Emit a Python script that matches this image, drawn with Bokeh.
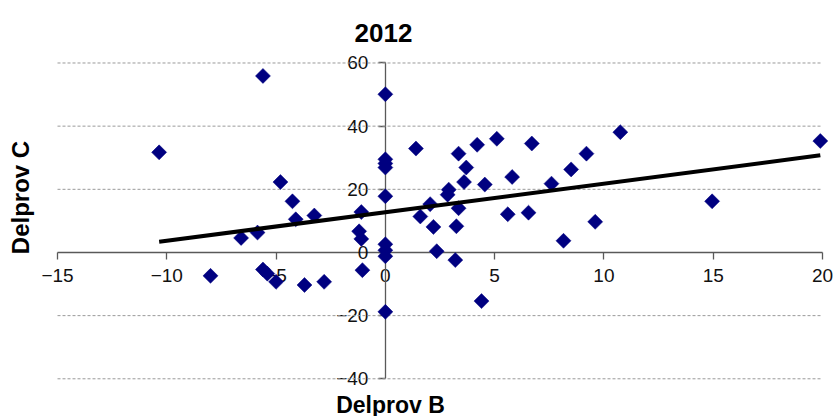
import numpy as np
from bokeh.plotting import figure
from bokeh.models import Range1d, FixedTicker, Label
from bokeh.embed import file_html
from bokeh.resources import INLINE

# Data
delprov_b = [-10.35, -8.0, -6.6, -5.85, -5.6, -5.6, -5.4, -5.0, -4.8, -4.25,
             -4.1, -3.7, -3.25, -2.8, -1.1, -1.2, -1.1, -1.05,
             0.0, 0.0, 0.0, 0.0, 0.0, 0.0, 0.0, 0.0, 0.0,
             1.4, 1.6, 2.05, 2.2, 2.35, 2.9, 2.85, 3.2, 3.25, 3.35, 3.35,
             3.6, 3.7, 4.2, 4.4, 4.55, 5.1, 5.6, 5.8, 6.55, 6.7, 7.6, 8.15,
             8.5, 9.2, 9.6, 10.75, 14.95, 19.9]
delprov_c = [31.7, -7.4, 4.6, 6.3, 55.9, -5.4, -6.7, -9.3, 22.3, 16.2,
             10.5, -10.3, 11.7, -9.3, 12.8, 6.7, 4.3, -5.6,
             50.1, 29.5, 28.2, 26.9, 17.8, 2.6, 0.7, -1.2, -18.8,
             32.9, 11.4, 15.3, 8.1, 0.4, 19.9, 18.3, -2.4, 8.3, 31.3, 14.0,
             22.3, 26.9, 34.1, -15.4, 21.5, 36.0, 12.1, 23.9, 12.6, 34.5, 21.8, 3.7,
             26.3, 31.3, 9.7, 38.1, 16.2, 35.3]
x_ticks = [-15, -10, -5, 0, 5, 10, 15, 20]
y_ticks = [-40, -20, 0, 20, 40, 60]
trend_slope = 0.905
trend_intercept = 12.75
title_text = "2012"
x_title = "Delprov B"
y_title = "Delprov C"

FONT = "Liberation Sans"

# The frame covers the whole canvas; the visible axes span the tick bounds.
p = figure(width=838, height=416, output_backend="svg", toolbar_location=None,
           x_range=Range1d(-17.608, 20.732), y_range=Range1d(-51.94, 79.79),
           min_border_left=0, min_border_right=0,
           min_border_top=0, min_border_bottom=0)
p.title.visible = False
p.outline_line_color = None
p.background_fill_color = "white"
p.border_fill_color = "white"
p.xgrid.visible = False
p.ygrid.visible = False

for ax in (p.xaxis[0], p.yaxis[0]):
    ax.fixed_location = 0
    ax.axis_line_color = "#595959"
    ax.axis_line_width = 1.3
    ax.major_tick_line_color = "#595959"
    ax.major_tick_line_width = 1.3
    ax.major_tick_out = 7
    ax.major_tick_in = 0
    ax.minor_tick_out = 0
    ax.minor_tick_in = 0
    ax.major_label_text_font = FONT
    ax.major_label_text_font_size = "19px"
    ax.major_label_text_color = "#111111"
    ax.level = "underlay"

p.xaxis.ticker = FixedTicker(ticks=x_ticks)
p.yaxis.ticker = FixedTicker(ticks=y_ticks)
p.xaxis.bounds = (x_ticks[0], x_ticks[-1])
p.yaxis.bounds = (y_ticks[0], y_ticks[-1])
p.xaxis.major_label_standoff = 10
p.yaxis.major_label_standoff = 10

# horizontal dashed gridlines across the tick bounds
grid_y = [t for t in y_ticks if t != 0]
p.segment(x0=[x_ticks[0]] * len(grid_y), y0=grid_y,
          x1=[x_ticks[-1]] * len(grid_y), y1=grid_y,
          line_color="#9a9a9a", line_dash="3 2", line_width=1)

# scatter markers (diamonds)
p.scatter(delprov_b, delprov_c, marker="square", size=10.6, angle=np.pi / 4,
          fill_color="#000080", line_color="#000080", line_width=0.5)

# linear trend line over data extent
tx = np.array([min(delprov_b), max(delprov_b)])
p.line(tx, trend_slope * tx + trend_intercept, line_color="black", line_width=4)

p.add_layout(Label(x=383, y=384, x_units="screen", y_units="screen", text=title_text,
                   text_font=FONT, text_font_size="26px", text_font_style="bold",
                   text_align="center", text_baseline="alphabetic", text_color="black"))
p.add_layout(Label(x=390, y=12, x_units="screen", y_units="screen", text=x_title,
                   text_font=FONT, text_font_size="23px", text_font_style="bold",
                   text_align="center", text_baseline="alphabetic", text_color="black"))
p.add_layout(Label(x=20, y=219, x_units="screen", y_units="screen", text=y_title,
                   text_font=FONT, text_font_size="24px", text_font_style="bold",
                   text_align="center", text_baseline="middle", angle=np.pi / 2,
                   text_color="black"))

open("out.html", "w").write(file_html(p, INLINE))
